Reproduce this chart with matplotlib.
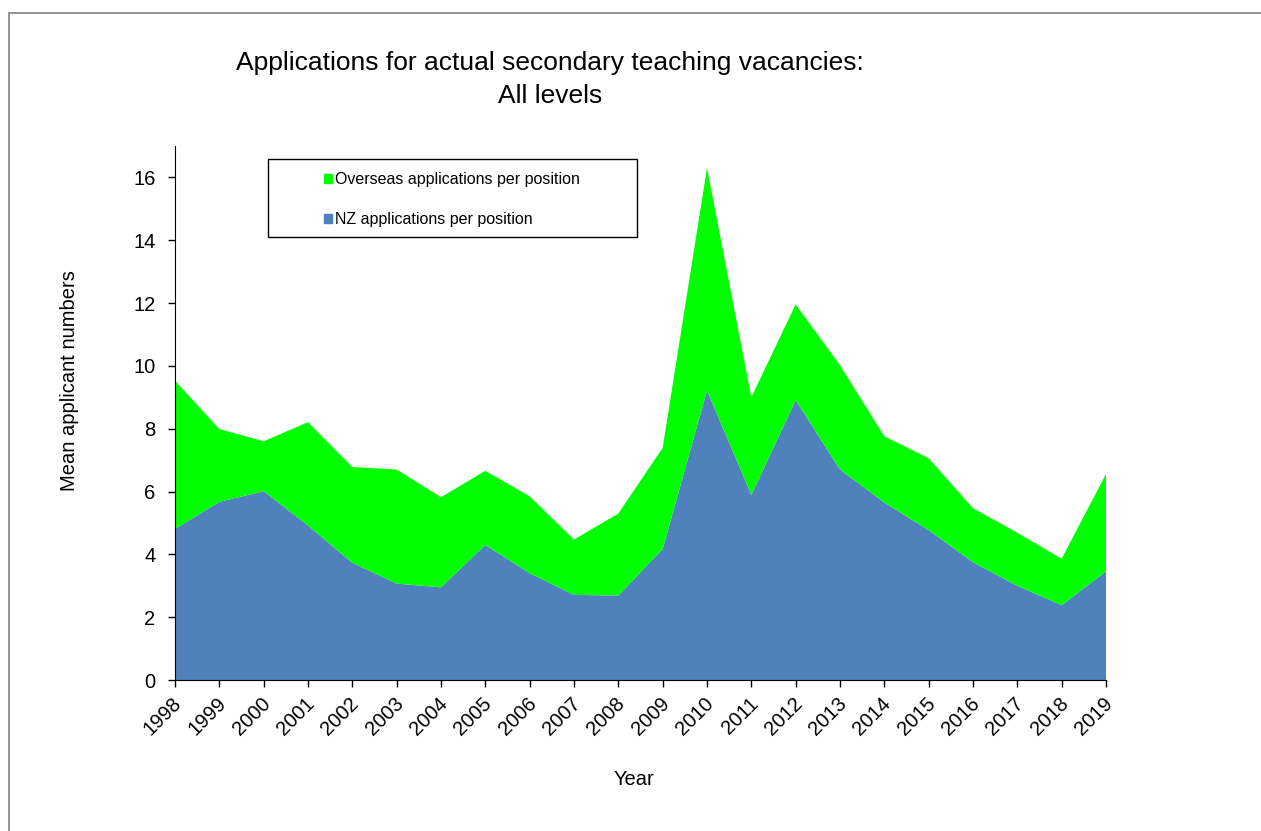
import numpy as np
import matplotlib
matplotlib.use("Agg")
import matplotlib.pyplot as plt
from matplotlib.patches import Rectangle, Patch
from matplotlib.transforms import ScaledTranslation

plt.rcParams['font.family'] = ['Liberation Sans', 'DejaVu Sans']

# values
years = list(range(1998, 2020))
nz_apps = [4.81, 5.67, 6.01, 4.92, 3.73, 3.07, 2.95, 4.30, 3.40, 2.71, 2.69,
           4.17, 9.22, 5.89, 8.91, 6.70, 5.65, 4.77, 3.75, 3.00, 2.38, 3.46]
total_apps = [9.53, 7.99, 7.60, 8.21, 6.78, 6.70, 5.82, 6.66, 5.85, 4.47, 5.30,
              7.39, 16.30, 9.00, 11.96, 10.02, 7.76, 7.06, 5.47, 4.69, 3.86, 6.56]
overseas_apps = [t - n for t, n in zip(total_apps, nz_apps)]

nz_colour = '#4F81BD'
os_colour = '#00FF00'

fig = plt.figure(figsize=(12.61, 8.31), dpi=100)
ax = fig.add_axes([175/1261, 1 - 680/831, (1106 - 175)/1261, (680 - 146)/831])

ax.stackplot(years, nz_apps, overseas_apps, colors=[nz_colour, os_colour], linewidth=0)

ax.set_xlim(1998, 2019)
ax.set_ylim(0, 17)
ax.set_yticks(np.arange(0, 17, 2))
ax.set_xticks(years)
ax.set_xticklabels([str(y) for y in years], rotation=45, ha='right',
                   rotation_mode='anchor', fontsize=14.5)
ax.tick_params(axis='y', labelsize=14.5, direction='out', length=5, width=1, pad=9)
ax.tick_params(axis='x', direction='out', length=5, width=1, pad=5)
shift = ScaledTranslation(-3/100, 0, fig.dpi_scale_trans)
for lbl in ax.get_xticklabels():
    lbl.set_transform(lbl.get_transform() + shift)
for side in ['top', 'right']:
    ax.spines[side].set_visible(False)

ax.set_xlabel('Year', fontsize=14.5)
ax.xaxis.set_label_coords(0.493, -0.168)
ax.set_ylabel('Mean applicant numbers', fontsize=14.5)
ax.yaxis.set_label_coords(-0.103, 0.56)

fig.text(550/1261, 1 - 63/831, 'Applications for actual secondary teaching vacancies:',
         ha='center', va='center', fontsize=19)
fig.text(550/1261, 1 - 96/831, 'All levels', ha='center', va='center', fontsize=19)

# legend box
fig.patches.append(Rectangle((268/1261, 1 - 237/831), (637 - 268)/1261, (237 - 159)/831,
                             transform=fig.transFigure, facecolor='white',
                             edgecolor='black', linewidth=1, zorder=3))
handles = [Patch(color=os_colour), Patch(color=nz_colour)]
leg = fig.legend(handles, ['Overseas applications per position', 'NZ applications per position'],
                 loc='upper left', bbox_to_anchor=(316/1261, 1 - 164/831),
                 frameon=False, fontsize=11.5, handlelength=0.5, handleheight=0.5,
                 handletextpad=0.2, labelspacing=1.55, borderpad=0)
leg.set_zorder(4)

# outer border
fig.patches.append(Rectangle((9/1261, -0.1), 1.2, 1 - 13/831 + 0.1,
                             transform=fig.transFigure, fill=False,
                             edgecolor='#808080', linewidth=1.2))

fig.savefig('out.png', dpi=100)
